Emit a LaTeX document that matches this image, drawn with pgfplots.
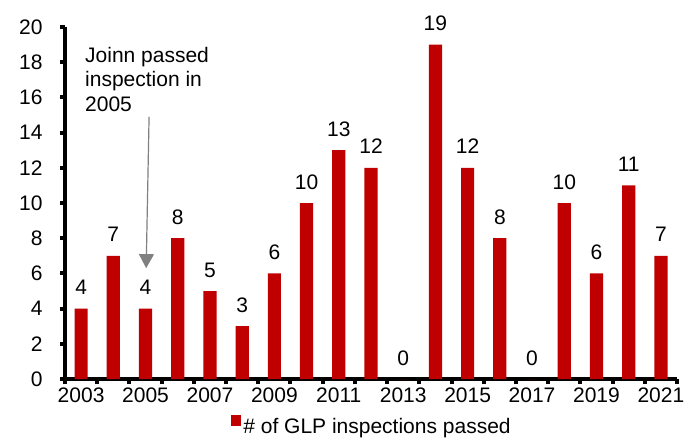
\documentclass[border=0pt]{standalone}
\usepackage{fontspec}
\setmainfont{Liberation Sans}
\usepackage{pgfplots}
\pgfplotsset{compat=1.18}
\usetikzlibrary{arrows.meta}
\definecolor{barred}{HTML}{C00000}
\definecolor{arrowgray}{HTML}{808080}
\newcommand{\cf}{\fontsize{21}{24.5}\selectfont}
\begin{document}
\begin{tikzpicture}[x=1pt,y=1pt]
\useasboundingbox (0,0) rectangle (684,437);
\begin{axis}[
  at={(65pt,58pt)}, anchor=south west,
  scale only axis, width=612pt, height=352pt,
  xmin=2002.5, xmax=2021.5, ymin=0, ymax=20,
  ybar, bar width=0.41,
  axis x line*=bottom, axis y line*=left,
  axis line style={line width=4.5pt, black, -},
  ytick={0,2,...,20},
  xtick={2003,2005,...,2021},
  xticklabels={2003,2005,2007,2009,2011,2013,2015,2017,2019,2021},
  minor xtick={2002.5,2003.5,...,2021.5},
  tick align=outside,
  major tick length=5pt, minor tick length=5pt,
  major x tick style={draw=none},
  minor x tick style={line width=4pt, black},
  major y tick style={line width=4pt, black},
  tick label style={font=\cf},
  yticklabel style={xshift=-14pt},
  /pgf/number format/assume math mode=true,
  nodes near coords,
  every node near coord/.append style={font=\cf, anchor=base, inner sep=0pt, yshift=14pt, black},
  legend style={draw=none, fill=none, at={(0.5,0)}, anchor=center, xshift=1pt, yshift=-47pt,
    font=\cf, inner sep=0pt, nodes={inner sep=2pt}},
  legend image code/.code={\fill[#1] (-1pt,0pt) rectangle (9pt,11pt);},
]
\addplot[fill=barred, draw=none] coordinates {
  (2003,4) (2004,7) (2005,4) (2006,8) (2007,5) (2008,3) (2009,6)
  (2010,10) (2011,13) (2012,12) (2013,0) (2014,19) (2015,12)
  (2016,8) (2017,0) (2018,10) (2019,6) (2020,11) (2021,7)
};
\addlegendentry{\# of GLP inspections passed}
\node[font=\cf, align=left, anchor=north west, inner sep=0pt] at (axis cs:2003.12,18.86)
  {Joinn passed\\inspection in\\2005};
\draw[arrowgray, line width=1.2pt, -{Triangle[width=15pt,length=14pt]}]
  (axis cs:2005.11,14.9) -- (axis cs:2005.02,6.3);
\end{axis}
\end{tikzpicture}
\end{document}
